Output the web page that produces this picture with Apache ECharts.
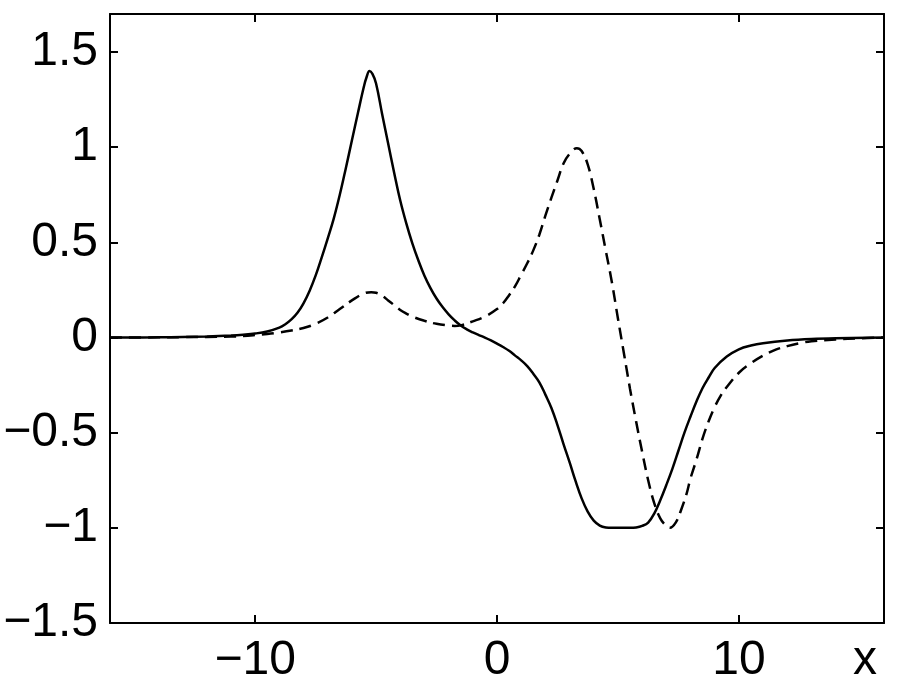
<!DOCTYPE html>
<html>
<head>
<meta charset="utf-8">
<script src="https://cdn.jsdelivr.net/npm/echarts@6/dist/echarts.min.js"></script>
<style>
html,body{margin:0;padding:0;background:#fff;}
#c{width:900px;height:694px;}
</style>
</head>
<body>
<div id="c"></div>
<script>
// Solid curve
const solidX = [-16, -14, -13, -12, -11, -10.5, -10, -9.5, -9, -8.75, -8.5, -8.25, -8, -7.75, -7.5, -7.25, -7, -6.75, -6.5, -6.25, -6, -5.75, -5.5, -5.4, -5.27, -5.15, -5, -4.75, -4.5, -4.25, -4, -3.75, -3.5, -3.25, -3, -2.75, -2.5, -2.25, -2, -1.75, -1.5, -1.25, -1, -0.75, -0.5, -0.25, 0, 0.25, 0.5, 0.75, 1, 1.25, 1.5, 1.75, 2, 2.25, 2.5, 2.75, 3, 3.25, 3.5, 3.75, 4, 4.25, 4.5, 4.75, 5, 5.25, 5.5, 5.75, 6, 6.25, 6.5, 6.75, 7, 7.25, 7.5, 7.75, 8, 8.25, 8.5, 8.75, 9, 9.5, 10, 10.5, 11, 12, 13, 14, 16];
const solidY = [0, 0.001, 0.003, 0.006, 0.011, 0.015, 0.021, 0.032, 0.052, 0.07, 0.095, 0.13, 0.18, 0.245, 0.325, 0.42, 0.52, 0.625, 0.75, 0.89, 1.035, 1.18, 1.32, 1.365, 1.40, 1.385, 1.335, 1.175, 1.02, 0.865, 0.72, 0.60, 0.495, 0.405, 0.325, 0.26, 0.205, 0.16, 0.122, 0.09, 0.063, 0.043, 0.027, 0.013, 0.0, -0.015, -0.032, -0.05, -0.07, -0.095, -0.12, -0.15, -0.19, -0.235, -0.30, -0.37, -0.46, -0.56, -0.655, -0.755, -0.845, -0.915, -0.962, -0.988, -0.998, -1.0, -1.0, -1.0, -1.0, -0.998, -0.99, -0.972, -0.925, -0.855, -0.775, -0.69, -0.595, -0.50, -0.415, -0.335, -0.265, -0.21, -0.16, -0.10, -0.062, -0.042, -0.03, -0.016, -0.008, -0.004, 0];

// Dashed curve
const dashX = [-16, -14, -13, -12, -11, -10.5, -10, -9.5, -9, -8.5, -8, -7.5, -7, -6.5, -6, -5.5, -5.2, -5, -4.75, -4.5, -4.25, -4, -3.75, -3.5, -3, -2.5, -2, -1.75, -1.5, -1, -0.5, 0, 0.25, 0.5, 0.75, 1, 1.25, 1.5, 1.75, 2, 2.25, 2.5, 2.75, 3, 3.3, 3.5, 3.75, 4, 4.25, 4.5, 4.75, 5, 5.25, 5.5, 5.75, 6, 6.25, 6.5, 6.75, 7, 7.15, 7.4, 7.6, 7.84, 8, 8.25, 8.5, 8.75, 9, 9.25, 9.5, 10, 10.5, 11, 11.5, 12, 12.5, 13, 14, 15, 16];
const dashY = [0, 0.001, 0.002, 0.003, 0.005, 0.008, 0.013, 0.019, 0.027, 0.037, 0.05, 0.072, 0.105, 0.15, 0.195, 0.232, 0.238, 0.235, 0.22, 0.195, 0.17, 0.145, 0.126, 0.11, 0.088, 0.072, 0.063, 0.061, 0.064, 0.085, 0.11, 0.15, 0.18, 0.222, 0.27, 0.33, 0.39, 0.458, 0.54, 0.64, 0.735, 0.825, 0.915, 0.965, 0.995, 0.98, 0.91, 0.78, 0.62, 0.455, 0.29, 0.10, -0.085, -0.27, -0.44, -0.60, -0.75, -0.87, -0.95, -0.99, -1.0, -0.97, -0.91, -0.82, -0.74, -0.64, -0.53, -0.44, -0.365, -0.305, -0.26, -0.185, -0.135, -0.095, -0.065, -0.045, -0.03, -0.02, -0.01, -0.004, 0];

// Tick values and labels
const xTicks = [-10, 0, 10];
const xTickLabels = ['\u221210', '0', '10'];
const yTicks = [-1.5, -1, -0.5, 0, 0.5, 1, 1.5];
const yTickLabels = ['\u22121.5', '\u22121', '\u22120.5', '0', '0.5', '1', '1.5'];
const xAxisTitle = 'x';

const FONT = 'Liberation Sans, Arial, Helvetica, sans-serif';
const labelStyle = {color: '#000', fontSize: 48, fontFamily: FONT};

function pairs(xs, ys) { return xs.map((x, i) => [x, ys[i]]); }
function labelFor(ticks, labels) {
  return function (v) {
    for (let i = 0; i < ticks.length; i++) if (Math.abs(ticks[i] - v) < 1e-9) return labels[i];
    return '';
  };
}

const axisLine = {show: true, onZero: false, lineStyle: {color: '#000', width: 2}};

const chart = echarts.init(document.getElementById('c'), null, {renderer: 'canvas'});
chart.setOption({
  animation: false,
  backgroundColor: '#fff',
  grid: {left: 110, right: 16, top: 14, bottom: 71, containLabel: false},
  xAxis: [
    {
      type: 'value', min: -16, max: 16, position: 'bottom',
      axisLine: axisLine,
      axisTick: {show: true, inside: true, length: 8, customValues: xTicks, lineStyle: {color: '#000', width: 2}},
      axisLabel: {show: true, customValues: xTicks, margin: 14, formatter: labelFor(xTicks, xTickLabels), ...labelStyle},
      splitLine: {show: false}
    },
    {
      type: 'value', min: -16, max: 16, position: 'top',
      axisLine: axisLine,
      axisTick: {show: true, inside: true, length: 8, customValues: xTicks, lineStyle: {color: '#000', width: 2}},
      axisLabel: {show: false},
      splitLine: {show: false}
    }
  ],
  yAxis: [
    {
      type: 'value', min: -1.5, max: 1.7, position: 'left',
      axisLine: axisLine,
      axisTick: {show: true, inside: true, length: 8, customValues: yTicks, lineStyle: {color: '#000', width: 2}},
      axisLabel: {show: true, customValues: yTicks, margin: 12, formatter: labelFor(yTicks, yTickLabels), ...labelStyle},
      splitLine: {show: false}
    },
    {
      type: 'value', min: -1.5, max: 1.7, position: 'right',
      axisLine: axisLine,
      axisTick: {show: true, inside: true, length: 8, customValues: yTicks, lineStyle: {color: '#000', width: 2}},
      axisLabel: {show: false},
      splitLine: {show: false}
    }
  ],
  graphic: [
    {type: 'text', left: 853, top: 637, style: {text: xAxisTitle, fill: '#000', font: '48px ' + FONT}}
  ],
  series: [
    {
      type: 'line', xAxisIndex: 0, yAxisIndex: 0, data: pairs(dashX, dashY),
      showSymbol: false, smooth: 0.4, clip: true,
      lineStyle: {color: '#000', width: 2.5, type: [12, 7]}
    },
    {
      type: 'line', xAxisIndex: 0, yAxisIndex: 0, data: pairs(solidX, solidY),
      showSymbol: false, smooth: 0.4, clip: true,
      lineStyle: {color: '#000', width: 2.5}
    }
  ]
});
</script>
</body>
</html>
